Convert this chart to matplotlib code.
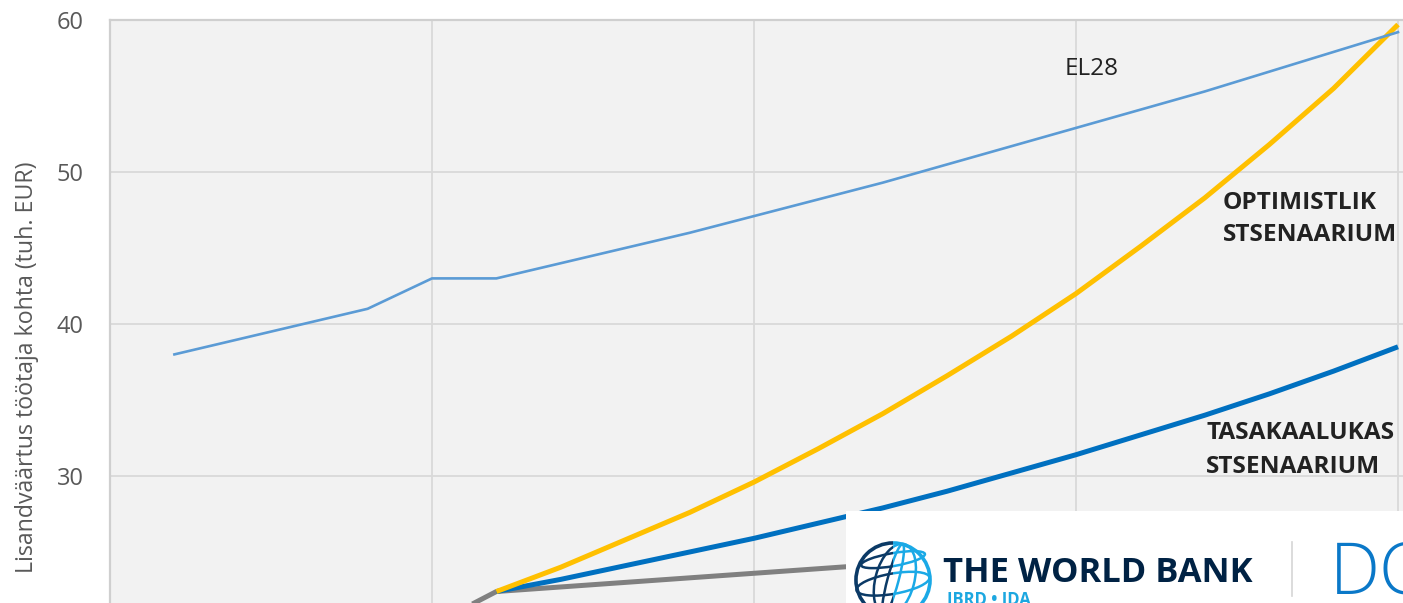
import matplotlib
matplotlib.use("Agg")
import matplotlib.pyplot as plt
from matplotlib.patches import Rectangle, Circle, Ellipse
from matplotlib.lines import Line2D

plt.rcParams['font.family'] = ['Open Sans', 'DejaVu Sans']

# ---------------- data ----------------
years_el28 = list(range(2011, 2031))
el28 = [38.0, 39.0, 40.0, 41.0, 43.0, 43.0, 44.0, 45.0, 46.0, 47.1,
        48.2, 49.3, 50.5, 51.7, 52.9, 54.1, 55.3, 56.6, 57.9, 59.2]

years_base = list(range(2015, 2031))
base = [20.2, 22.4, 22.7, 23.0, 23.3, 23.6, 23.9, 24.2, 24.5, 24.8,
        25.1, 25.4, 25.7, 26.0, 26.3, 26.6]

years_scen = list(range(2016, 2031))
optimistic = [22.4, 24.0, 25.8, 27.6, 29.6, 31.8, 34.1, 36.6, 39.2, 42.0,
              45.1, 48.3, 51.8, 55.5, 59.7]
balanced = [22.4, 23.2, 24.1, 25.0, 25.9, 26.9, 27.9, 29.0, 30.2, 31.4,
            32.7, 34.0, 35.4, 36.9, 38.5]

y_ticks = [30, 40, 50, 60]
x_ticks = [2010, 2015, 2020, 2025, 2030]
y_label = "Lisandväärtus töötaja kohta (tuh. EUR)"

# ---------------- figure ----------------
W, H = 1403, 603
fig = plt.figure(figsize=(W / 100, H / 100), dpi=100)
fig.patch.set_facecolor('white')

px_per_year = 64.4
px_per_unit = 15.2
x0, x1 = 2010, 2031
y0, y1 = 0, 60
left_px, top_px = 110, 20
ax_w = (x1 - x0) * px_per_year
ax_h = (y1 - y0) * px_per_unit
ax = fig.add_axes([left_px / W, 1 - (top_px + ax_h) / H, ax_w / W, ax_h / H])
ax.set_xlim(x0, x1)
ax.set_ylim(y0, y1)
ax.set_facecolor('#F2F2F2')

ax.set_xticks(x_ticks)
ax.set_yticks(y_ticks)
ax.set_yticklabels([str(v) for v in y_ticks])
ax.grid(True, color='#D9D9D9', lw=1.3)
ax.set_axisbelow(True)
ax.tick_params(axis='both', length=0)
ax.tick_params(axis='y', labelsize=17, labelcolor='#595959', pad=19)
ax.tick_params(axis='x', labelbottom=False)
for s in ['right', 'bottom']:
    ax.spines[s].set_visible(False)
for s in ['left', 'top']:
    ax.spines[s].set_color('#CFCFCF')
    ax.spines[s].set_linewidth(1.6)

ax.plot(years_base, base, color='#808080', lw=3.6, solid_capstyle='butt', zorder=3)
ax.plot(years_scen, balanced, color='#0070C0', lw=3.6, solid_capstyle='butt', zorder=4)
ax.plot(years_scen, optimistic, color='#FFC000', lw=3.6, solid_capstyle='butt', zorder=5)
ax.plot(years_el28, el28, color='#5B9BD5', lw=1.9, zorder=6)

txt_col = '#222222'
ax.text(2024.83, 56.38, 'EL28', fontsize=17.5, color=txt_col, ha='left', va='baseline')
ax.text(2027.28, 47.57, 'OPTIMISTLIK', fontsize=17.6, fontweight='bold', color=txt_col,
        ha='left', va='baseline')
ax.text(2027.28, 45.46, 'STSENAARIUM', fontsize=17.6, fontweight='bold', color=txt_col,
        ha='left', va='baseline')
ax.text(2027.02, 32.43, 'TASAKAALUKAS', fontsize=17.6, fontweight='bold', color=txt_col,
        ha='left', va='baseline')
ax.text(2027.02, 30.2, 'STSENAARIUM', fontsize=17.6, fontweight='bold', color=txt_col,
        ha='left', va='baseline')

fig.text(27 / W, 1 - 367 / H, y_label, rotation=90, fontsize=16.7, color='#595959',
         ha='center', va='center')

# ---------------- logo overlay ----------------
box = Rectangle((846 / W, 0), (W - 846) / W, (H - 511) / H, transform=fig.transFigure,
                facecolor='white', edgecolor='none', zorder=10)
fig.add_artist(box)
fig.text(943 / W, 1 - 582 / H, 'THE WORLD BANK', fontsize=24.8, fontweight='bold',
         color='#002244', ha='left', va='baseline', zorder=11)
fig.text(947 / W, 1 - 605 / H, 'IBRD • IDA', fontsize=12, fontweight='bold',
         color='#1CA7E0', ha='left', va='baseline', zorder=11)
fig.add_artist(Line2D([1292 / W, 1292 / W], [1 - 542 / H, 1 - 596 / H],
                      transform=fig.transFigure, color='#D5D5D5', lw=1.2, zorder=11))
fig.text(1330 / W, 1 - 593 / H, 'DC', fontsize=51, fontweight='light',
         color='#0A78C8', ha='left', va='baseline', zorder=11)

r = 40
gax = fig.add_axes([(893 - r) / W, 1 - (580 + r) / H, 2 * r / W, 2 * r / H], zorder=12)
gax.set_xlim(-1.08, 1.08)
gax.set_ylim(-1.08, 1.08)
gax.axis('off')
for col, clip in [('#0B3A66', (-1.2, -1.2, 1.2, 2.4)), ('#1AA9E6', (0.0, -1.2, 1.2, 2.4))]:
    cr = Rectangle(clip[:2], clip[2], clip[3], transform=gax.transData)
    arts = [Circle((0, 0), 1.0, fill=False, lw=2.6, ec=col),
            Ellipse((0.05, 0), 1.05, 2.0, angle=-15, fill=False, lw=1.8, ec=col),
            Ellipse((0.0, 0), 0.3, 2.0, angle=-15, fill=False, lw=1.8, ec=col),
            Ellipse((0, 0.55), 1.75, 0.35, angle=10, fill=False, lw=1.8, ec=col),
            Ellipse((0, -0.1), 2.0, 0.55, angle=10, fill=False, lw=1.8, ec=col)]
    for a in arts:
        gax.add_patch(a)
        a.set_clip_path(cr)

fig.savefig('out.png', dpi=100)
